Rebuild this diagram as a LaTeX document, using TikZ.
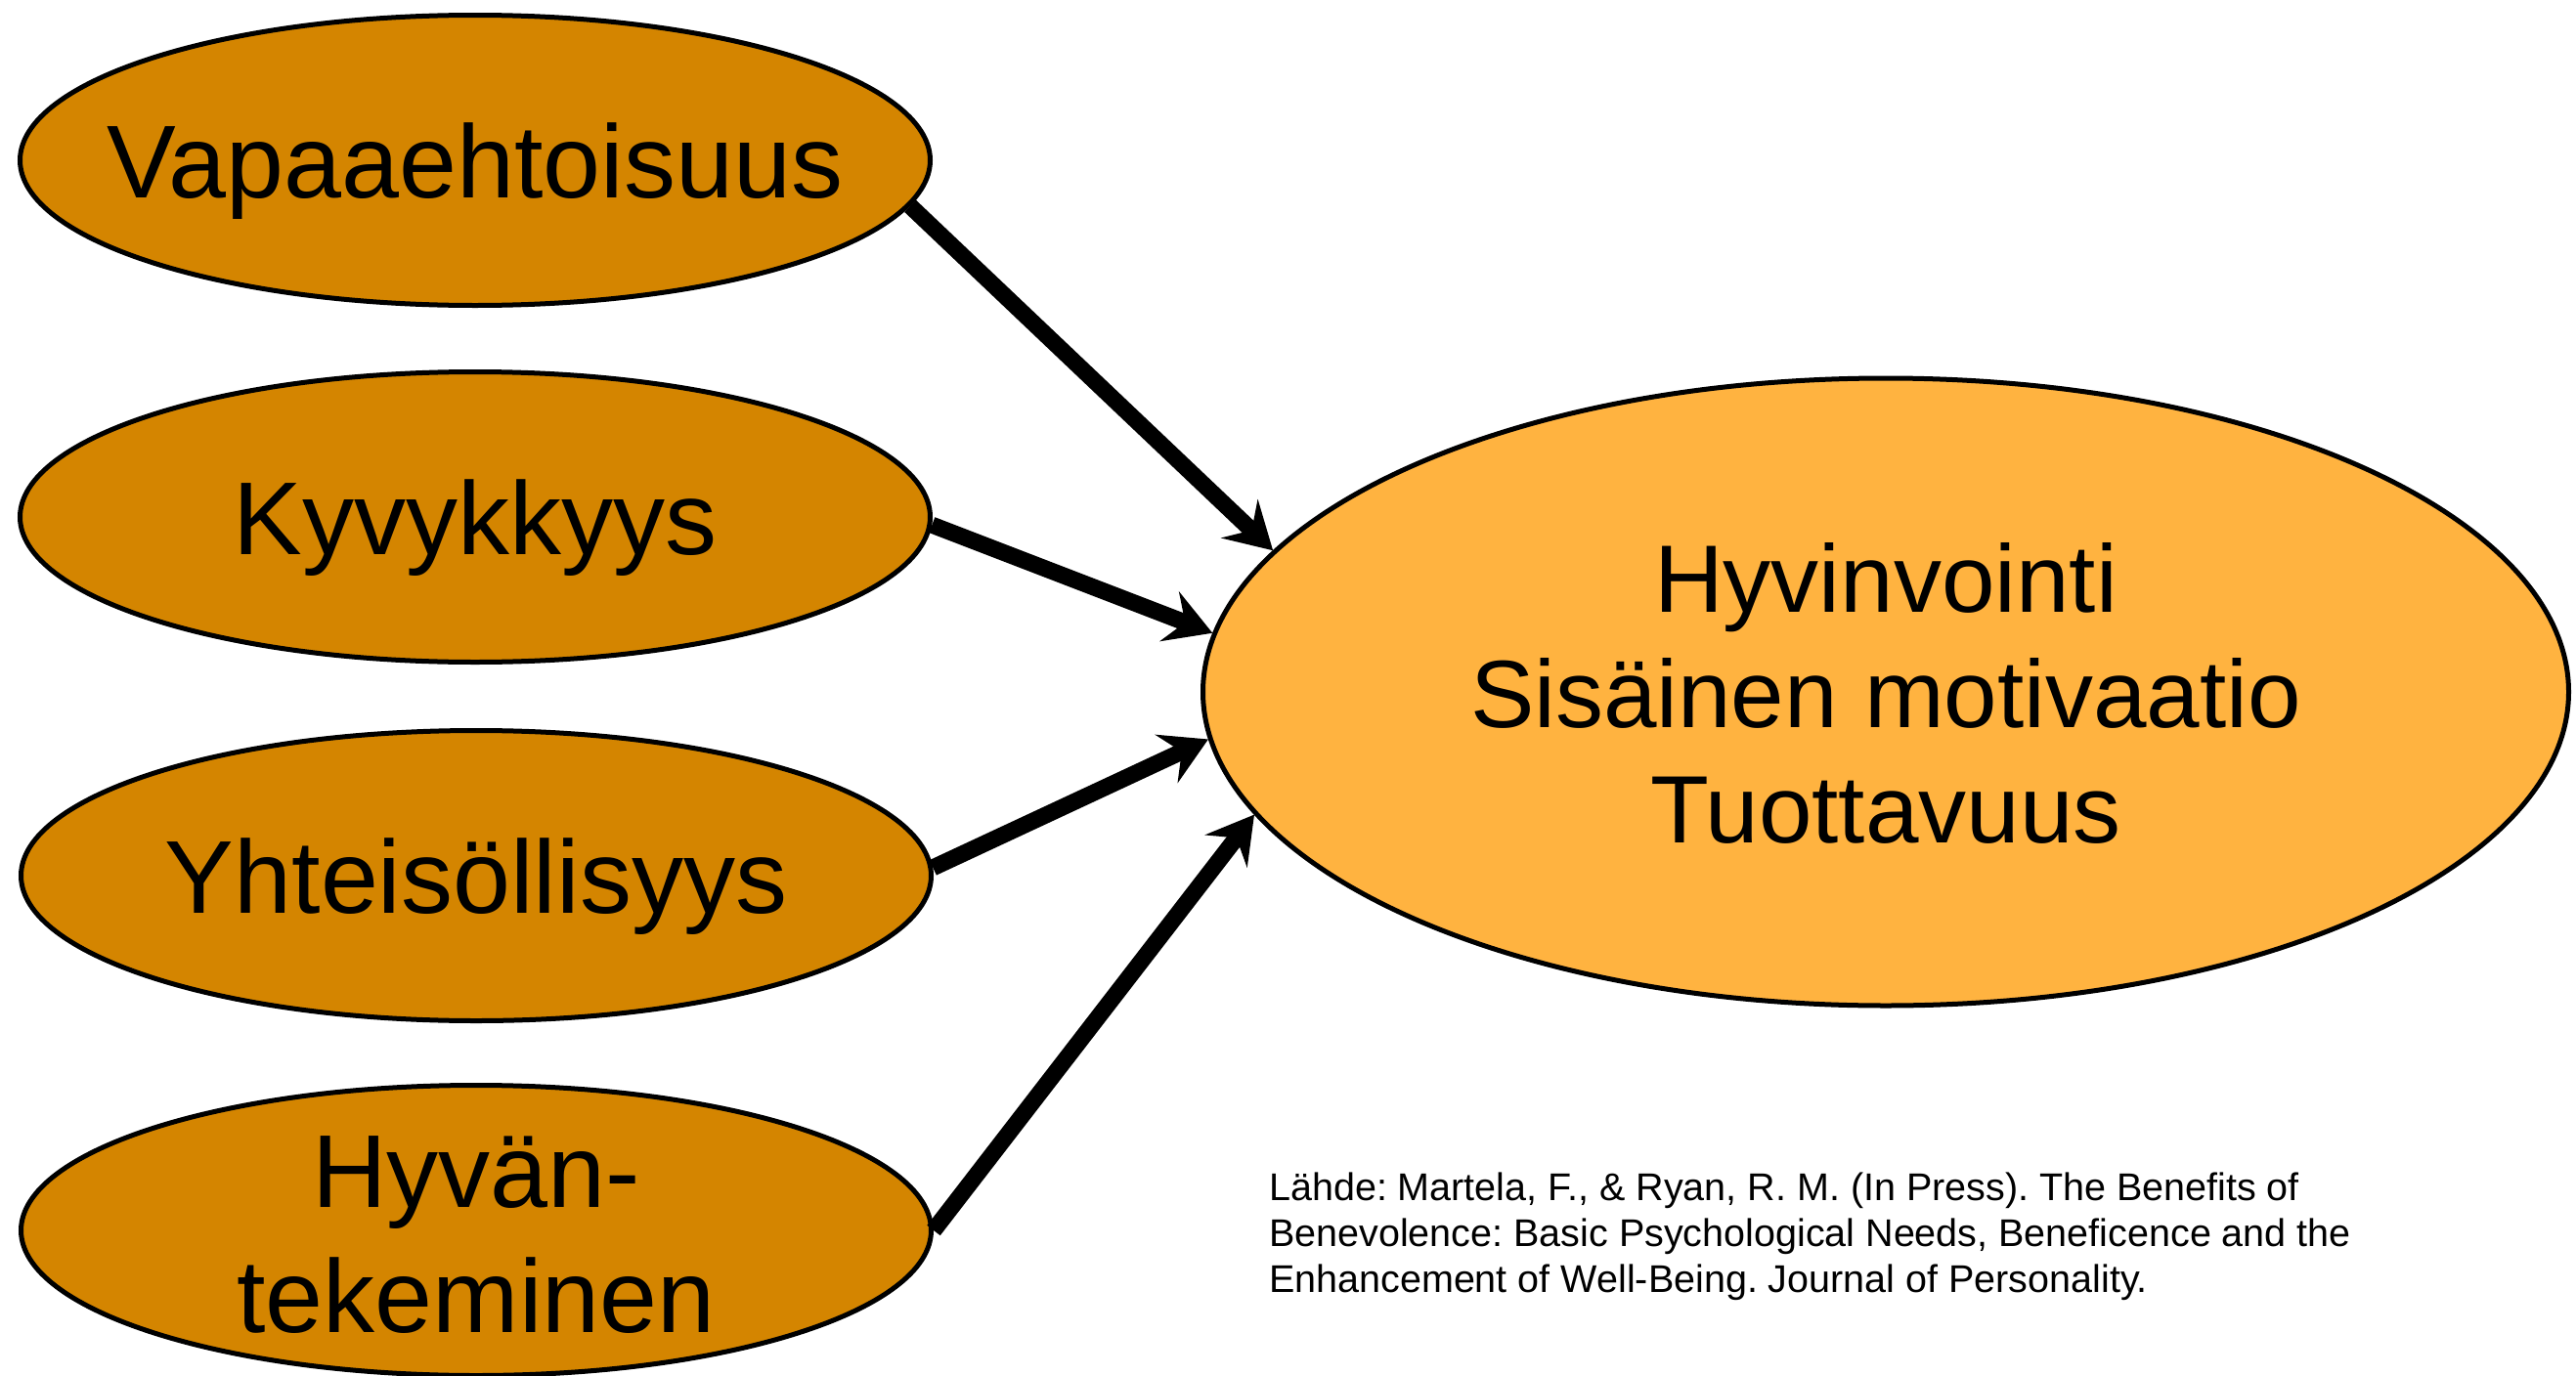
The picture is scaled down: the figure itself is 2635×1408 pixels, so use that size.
\documentclass[tikz,border=0pt]{standalone}
\usepackage{fontspec}
\setmainfont{Liberation Sans}
\usetikzlibrary{arrows.meta,shapes.geometric}
\definecolor{needfill}{HTML}{D48500}
\definecolor{outcomefill}{HTML}{FFB340}
\frenchspacing
\begin{document}
\begin{tikzpicture}[x=1pt,y=-1pt,
  need/.style={ellipse, draw=black, line width=5pt, fill=needfill,
    minimum width=931pt, minimum height=297pt, inner sep=0pt},
  outcome/.style={ellipse, draw=black, line width=5pt, fill=outcomefill,
    minimum width=1397pt, minimum height=642pt, inner sep=0pt},
  needtext/.style={inner sep=0pt, align=center, anchor=base,
    font=\fontsize{106}{128}\selectfont},
  outcometext/.style={inner sep=0pt, align=center, anchor=base,
    font=\fontsize{98}{118}\selectfont},
  citetext/.style={inner sep=0pt, align=left, anchor=base west,
    font=\fontsize{39.5}{47}\selectfont},
  link/.style={line width=17pt,
    -{Stealth[length=47pt,width=54pt,inset=17pt]}}
]
\useasboundingbox (0,0) rectangle (2635,1408);

% four basic needs on the left
\node[need] (vap) at (486,164) {};
\node[need] (kyv) at (486,529) {};
\node[need] (yht) at (487,896) {};
\node[need] (hyv) at (487,1259) {};

% multi-line labels sit on the baseline of their last line
\node[needtext] (vapt) at (486,202) {Vapaaehtoisuus};
\node[needtext] (kyvt) at (486,567) {Kyvykkyys};
\node[needtext] (yhtt) at (487,934) {Yhteisöllisyys};
\node[needtext] (hyvt) at (487,1363) {Hyvän-\\tekeminen};

% outcomes on the right
\node[outcome] (out) at (1929,708) {};
\node[outcometext] (outt) at (1929,862) {Hyvinvointi\\Sisäinen motivaatio\\Tuottavuus};

% arrows from each need to the outcomes
\draw[link] (vap.-6.1) -- (out.167.75);
\draw[link] (kyv.-1.6) -- (out.175.35);
\draw[link] (yht.1.35) -- (out.-176.96);
\draw[link] (hyv.0) -- (out.-169.13);

% source reference
\node[citetext] (src) at (1298,1322) {Lähde: Martela, F., \& Ryan, R. M. (In Press). The Benefits of\\Benevolence: Basic Psychological Needs, Beneficence and the\\Enhancement of Well-Being. Journal of Personality.};
\end{tikzpicture}
\end{document}
